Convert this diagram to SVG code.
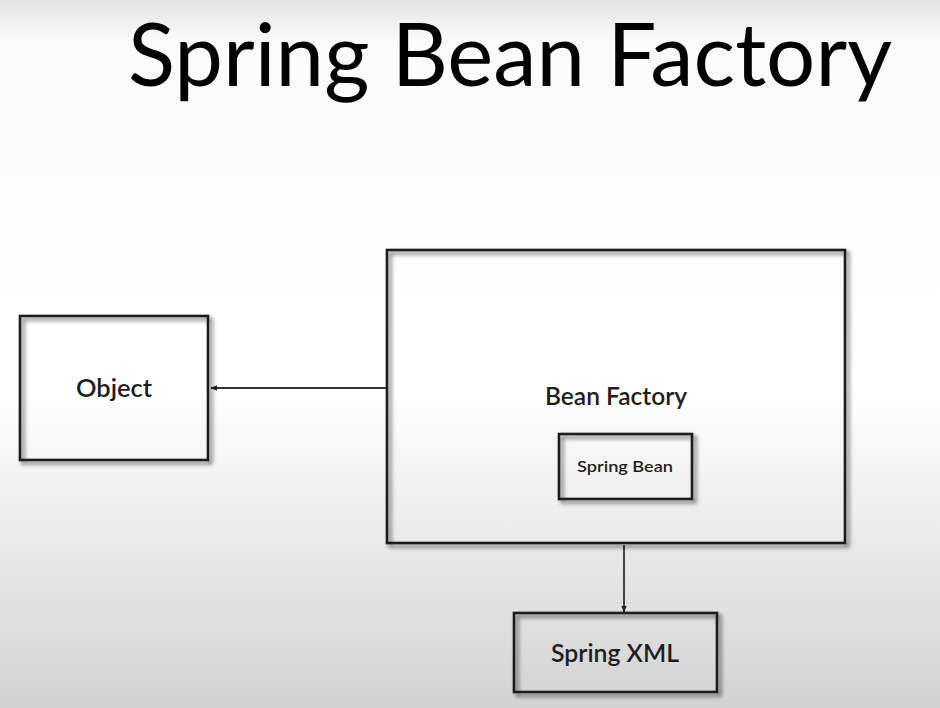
<svg xmlns="http://www.w3.org/2000/svg" width="940" height="708" viewBox="0 0 940 708">
<defs>
<linearGradient id="bg" x1="0" y1="0" x2="0" y2="1">
<stop offset="0" stop-color="#e4e4e4"/>
<stop offset="0.06" stop-color="#fbfbfb"/>
<stop offset="0.55" stop-color="#ffffff"/>
<stop offset="1" stop-color="#d2d2d2"/>
</linearGradient>
<filter id="sh" x="-10%" y="-10%" width="130%" height="130%">
<feGaussianBlur in="SourceAlpha" stdDeviation="2.2"/>
<feOffset dx="3" dy="3" result="b"/>
<feComponentTransfer><feFuncA type="linear" slope="0.6"/></feComponentTransfer>
<feMerge><feMergeNode/><feMergeNode in="SourceGraphic"/></feMerge>
</filter>
<marker id="ah" viewBox="0 0 10 10" refX="9" refY="5" markerWidth="7" markerHeight="7" orient="auto" markerUnits="userSpaceOnUse">
<path d="M0,1 L10,5 L0,9 z" fill="#222"/>
</marker>
<style>
.box{fill:none;stroke:#1e1e1e;stroke-width:2.6;filter:url(#sh)}
.lbl{font-family:Lato,"Open Sans","Liberation Sans",sans-serif;font-weight:600;fill:#1e1e1e;text-anchor:middle}
.con{stroke:#333;stroke-width:1.8;fill:none;marker-end:url(#ah)}
</style>
</defs>
<rect width="940" height="708" fill="url(#bg)"/>
<text x="128" y="86" font-family="Lato,'Open Sans','Liberation Sans',sans-serif" font-size="87" fill="#000" textLength="764" lengthAdjust="spacingAndGlyphs">Spring Bean Factory</text>
<g id="connectors">
<line class="con" x1="387" y1="388" x2="211" y2="388"/>
<line class="con" x1="624" y1="545" x2="624" y2="612"/>
</g>
<g id="object">
<rect class="box" x="20" y="316" width="188" height="144"/>
<text class="lbl" x="114" y="397" font-size="24" textLength="76" lengthAdjust="spacingAndGlyphs">Object</text>
</g>
<g id="bean-factory">
<rect class="box" x="387" y="250" width="458" height="293"/>
<text class="lbl" x="616" y="405" font-size="24" textLength="142" lengthAdjust="spacingAndGlyphs">Bean Factory</text>
</g>
<g id="spring-bean">
<rect class="box" x="559" y="434" width="133" height="65"/>
<text class="lbl" x="625" y="472" font-size="16" textLength="96" lengthAdjust="spacingAndGlyphs">Spring Bean</text>
</g>
<g id="spring-xml">
<rect class="box" x="514" y="613" width="203" height="79"/>
<text class="lbl" x="615" y="662" font-size="24" textLength="128" lengthAdjust="spacingAndGlyphs">Spring XML</text>
</g>
</svg>
